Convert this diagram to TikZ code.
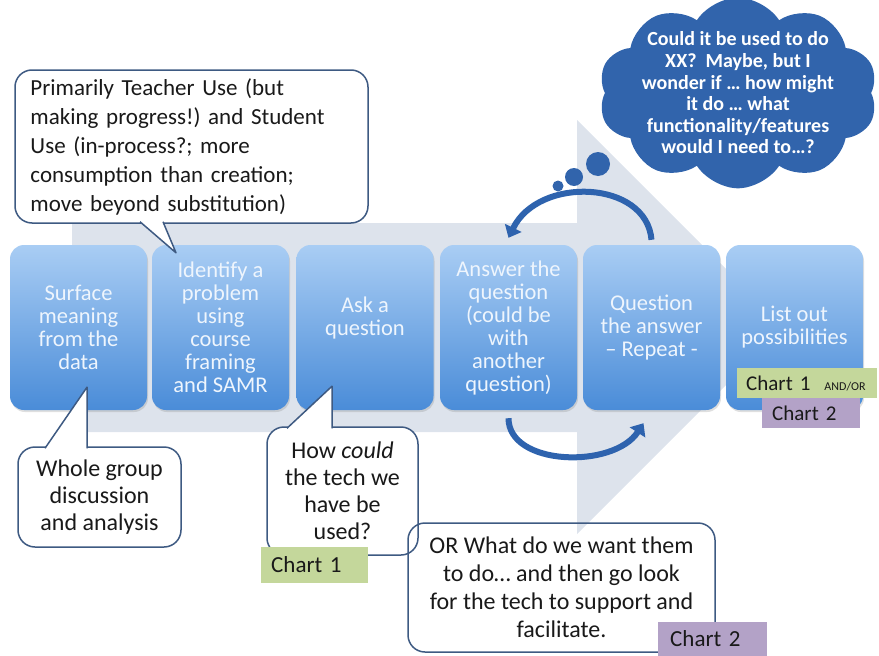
\documentclass[tikz,border=0pt]{standalone}
\usepackage{fontspec}
\setmainfont{Carlito}
\usepackage{tikz}
\usetikzlibrary{calc,shapes,shapes.symbols,arrows.meta,shadows}
\usepackage{xcolor}
\frenchspacing

\definecolor{bandgrey}{HTML}{DDE3EC}
\definecolor{boxtop}{HTML}{A9CDF4}
\definecolor{boxbot}{HTML}{4A8CD8}
\definecolor{boxtext}{HTML}{EEF5FD}
\definecolor{arcblue}{HTML}{2E63AE}
\definecolor{cloudblue}{HTML}{3164AC}
\definecolor{calloutline}{HTML}{3E5A82}
\definecolor{chartgreen}{HTML}{C4D79B}
\definecolor{chartpurple}{HTML}{B3A2C7}

\begin{document}
\begin{tikzpicture}[x=1pt,y=-1pt,
		stepbox/.style={rounded corners=14pt,minimum width=137pt,minimum height=165pt,inner sep=0pt,
			top color=boxtop,bottom color=boxbot,text=boxtext,align=center,
			font=\fontsize{22.5}{23}\selectfont,
			drop shadow={shadow xshift=1pt,shadow yshift=-2pt,opacity=0.25}},
		callout/.style={draw=calloutline,line width=1.5pt,rounded corners=17pt,inner sep=0pt,
			align=center,text=black!90,font=\fontsize{24}{28}\selectfont},
		pointer/.style={draw=calloutline,fill=white,line width=1.5pt,line join=round},
		cyclearrow/.style={draw=arcblue,line width=6pt,-{Triangle[width=18pt,length=11pt]}},
		chart/.style={inner sep=0pt,anchor=west,font=\fontsize{23}{24}\selectfont,text=black!90}]
		\useasboundingbox (0,0) rectangle (879,656);

		% big arrow behind the steps
		\fill [bandgrey] (72,223) -- (577,223) -- (577,120) -- (784,327) -- (577,534) -- (577,432) -- (72,432) -- cycle;

		% the six steps
		\node [stepbox] (1) at (78.5,327.5) {Surface\\meaning\\from the\\data};
		\node [stepbox] (2) at (220.5,327.5) {Identify a\\problem\\using\\course\\framing\\and SAMR};
		\node [stepbox] (3) at (365,327.5) {Ask a\\question\\\mbox{}};
		\node [stepbox] (4) at (508.5,327.5) {Answer the\\question\\(could be\\with\\another\\question)};
		\node [stepbox] (5) at (651.5,327.5) {Question\\the answer\\-- Repeat -};
		\node [stepbox] (6) at (794.5,327.5) {List out\\possibilities};

		% loop between answering and questioning
		\draw [cyclearrow] ([yshift=5pt]5.north) .. controls +(-5,-60) and +(30,-62) .. ([yshift=7pt]4.north);
		\draw [cyclearrow] ([yshift=-8pt]4.south) .. controls +(0,48) and +(-30,46) .. ([xshift=-8pt,yshift=-13pt]5.south);

		% thought cloud
		\node [cloud,cloud puffs=10,cloud puff arc=115,cloud ignores aspect,fill=cloudblue,inner xsep=-2pt,inner ysep=-7pt,
			text=white,align=center,font=\bfseries\fontsize{20}{21.6}\selectfont] (t) at (738,93)
			{Could it be used to do\\XX?\ \ Maybe, but I\\wonder if \dots\ how might\\it do \dots\ what\\functionality/features\\would I need to\dots?};
		\fill [cloudblue] (598,164) circle (12pt);
		\fill [cloudblue] (574,177) circle (9pt);
		\fill [cloudblue] (558,186) circle (5.5pt);

		% callouts
		\node [callout,fill=white,minimum width=353pt,minimum height=153pt,text width=322pt,align=left,
			font=\fontsize{23}{29}\selectfont] (a) at (191.5,146.5)
			{Primarily Teacher Use (but\\making progress!) and Student\\Use (in-process?; more\\consumption than creation;\\move beyond substitution)};
		\draw [pointer] ([xshift=-51.5pt,yshift=2pt]a.south) -- ([xshift=-44.5pt,yshift=-8pt]2.north) -- ([xshift=-28.5pt,yshift=2pt]a.south);

		\node [callout,fill=white,minimum width=163pt,minimum height=100pt,font=\fontsize{24}{27}\selectfont] (b) at (99.5,497)
			{Whole group\\discussion\\and analysis};
		\draw [pointer] ([xshift=-54.5pt,yshift=-2pt]b.north) -- ([xshift=8.5pt,yshift=23pt]1.south) -- ([xshift=-12.5pt,yshift=-2pt]b.north);

		\node [callout,fill=white,minimum width=151pt,minimum height=128pt,font=\fontsize{24}{27}\selectfont] (c) at (342.5,491)
			{How \textit{could}\\the tech we\\have be\\used?};
		\draw [pointer] ([xshift=-55.5pt,yshift=-2pt]c.north) -- ([xshift=-33pt,yshift=24pt]3.south) -- ([xshift=-10.5pt,yshift=-2pt]c.north);

		\node [callout,minimum width=307pt,minimum height=129pt] (d) at (561.5,587.5)
			{OR What do we want them\\to do\dots\ and then go look\\for the tech to support and\\facilitate.};

		% chart tags
		\node [chart,fill=chartgreen,minimum width=107pt,minimum height=36pt,text width=87pt,align=left] (g1) at (261,565) {Chart 1};
		\node [chart,fill=chartpurple,minimum width=109pt,minimum height=34pt,text width=85pt,align=left] (p1) at (658,639) {Chart 2};
		\node [chart,fill=chartgreen,minimum width=140pt,minimum height=30pt,text width=122pt,align=left,
			font=\fontsize{21}{22}\selectfont] (g2) at (737,383)
			{\mbox{Chart 1\ \ {\fontsize{12}{12}\selectfont AND/OR}}};
		\node [chart,fill=chartpurple,minimum width=98pt,minimum height=30pt,text width=78pt,align=left,
			font=\fontsize{21}{22}\selectfont] (p2) at (762,413) {Chart 2};
\end{tikzpicture}
\end{document}
